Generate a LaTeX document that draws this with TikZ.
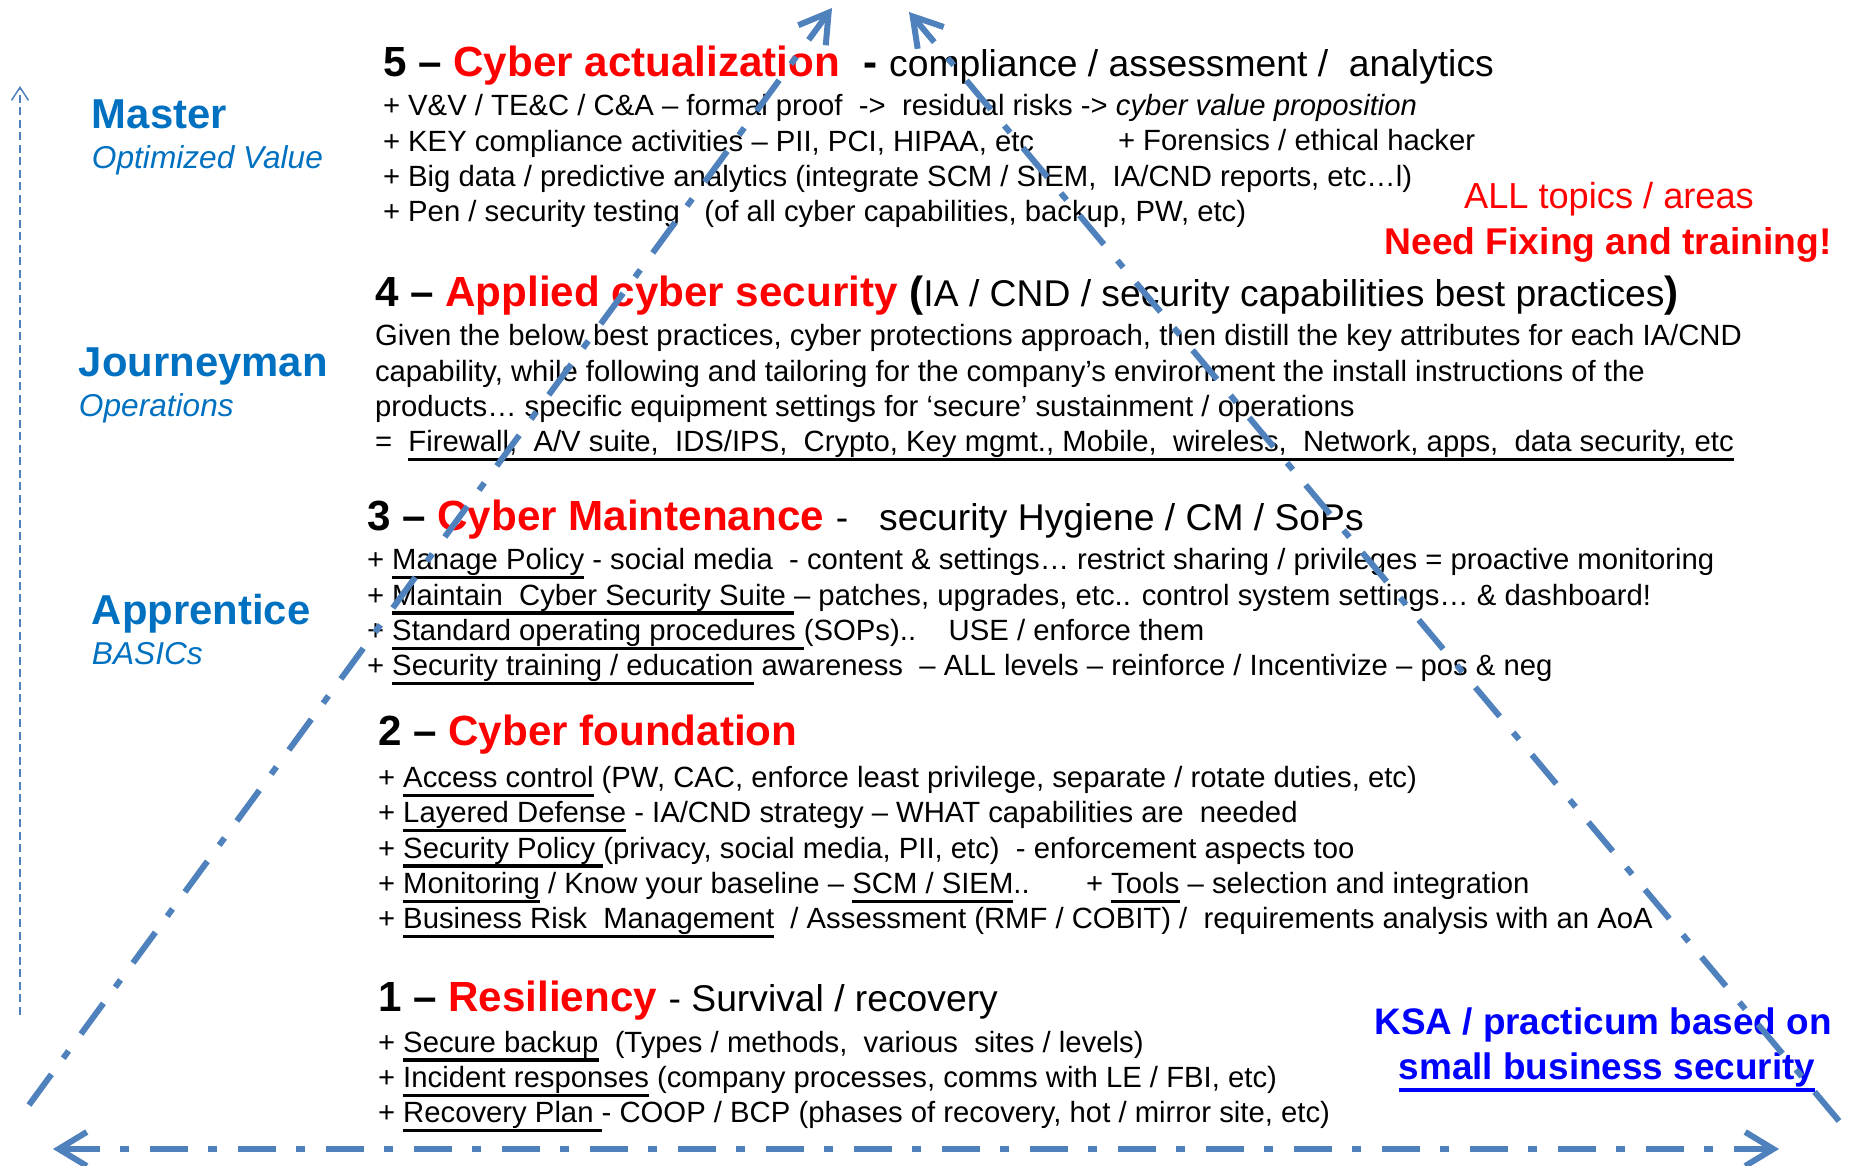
\documentclass[tikz,border=0pt]{standalone}
\usepackage{fontspec}
\setmainfont{Liberation Sans}
\usetikzlibrary{arrows.meta, positioning}
\definecolor{lvlred}{HTML}{FF0000}
\definecolor{rankblue}{HTML}{0070C0}
\definecolor{ksablue}{HTML}{0000FF}
\definecolor{triblue}{HTML}{4F81BD}
\newcommand{\undl}[1]{{\setbox0=\hbox{#1}\rlap{\vrule height -0.21em depth 0.32em width \wd0}\box0}}
\tikzset{tribarb/.tip={Straight Barb[length=2.8mm, width=3.4mm]}}

\begin{document}
\begin{tikzpicture}[x=0.1mm, y=-0.1mm,
        every node/.style={inner sep=0pt, outer sep=0pt, anchor=base west},
        head/.style={font=\fontsize{12}{14}\selectfont\bfseries},
        body/.style={align=left, font=\fontsize{8.33}{10.07}\selectfont},
        rank/.style={text=rankblue, font=\fontsize{11.9}{14}\selectfont\bfseries},
        rankdesc/.style={text=rankblue, font=\fontsize{9}{11}\selectfont\itshape},
        note/.style={anchor=base, text=lvlred},
        ksa/.style={anchor=base, text=ksablue, font=\fontsize{10.5}{13}\selectfont\bfseries},
        tri/.style={triblue, line width=0.6mm,
                    dash pattern=on 3.8mm off 2mm on 0.9mm off 2.1mm},
        axis/.style={triblue, line width=0.15mm, dash pattern=on 0.8mm off 0.45mm,
                     -{Straight Barb[length=1.3mm, width=1.7mm]}}
    ]
    \useasboundingbox (0,0) rectangle (1850,1166);

    % skill ranks
    \node[rank] (master) at (92,129) {Master};
    \node[rankdesc] (optval) at ([yshift=-4mm]master.base west) {Optimized Value};
    \node[rank] (journey) at (79,377) {Journeyman};
    \node[rankdesc] (ops) at ([yshift=-4mm]journey.base west) {Operations};
    \node[rank] (appr) at (92,625) {Apprentice};
    \node[rankdesc] (basics) at ([yshift=-4mm]appr.base west) {BASICs};

    % level 5 (body nodes sit on the baseline of their last line)
    \node[head] (h5) at (383,77) {5 – \textcolor{lvlred}{Cyber actualization}\ \ - {\fontsize{10.6}{13}\selectfont\mdseries compliance / assessment /\ \ analytics}};
    \node[body] (b5) at (383,222) {+ V\&V / TE\&C / C\&A – formal proof\ \ ->\ \ residual risks -> \textit{cyber value proposition}\\
        + KEY compliance activities – PII, PCI, HIPAA, etc\\
        + Big data / predictive analytics (integrate SCM / SIEM,\ \ IA/CND reports, etc…l)\\
        + Pen / security testing\ \ \ (of all cyber capabilities, backup, PW, etc)};
    \node[body] (forens) at (1118,151) {+ Forensics / ethical hacker};

    \node[note, font=\fontsize{10.3}{12}\selectfont] (fix1) at (1609,209) {ALL topics / areas};
    \node[note, font=\fontsize{10.6}{13}\selectfont\bfseries] (fix2) at (1608,255) {Need Fixing and training!};

    % level 4
    \node[head] (h4) at (375,307) {4 – \textcolor{lvlred}{Applied cyber security} ({\fontsize{10.6}{13}\selectfont\mdseries IA / CND / security capabilities best practices})};
    \node[body] (b4) at (375,452) {Given the below best practices, cyber protections approach, then distill the key attributes for each IA/CND\\
        capability, while following and tailoring for the company’s environment the install instructions of the\\
        products… specific equipment settings for ‘secure’ sustainment / operations\\
        =\ \ \undl{Firewall,\ \ A/V suite,\ \ IDS/IPS,\ \ Crypto, Key mgmt., Mobile,\ \ wireless,\ \ Network, apps,\ \ data security, etc}};

    % level 3
    \node[head] (h3) at (367,531) {3 – \textcolor{lvlred}{Cyber Maintenance} {\fontsize{10.6}{13}\selectfont\mdseries -\ \ \ security Hygiene / CM / SoPs}};
    \node[body] (b3) at (367,676) {+ \undl{Manage Policy} - social media\ \ - content \& settings… restrict sharing / privileges = proactive monitoring\\
        + \undl{Maintain\ \ Cyber Security Suite\ }– patches, upgrades, etc.. control system settings… \& dashboard!\\
        + \undl{Standard operating procedures\ }(SOPs)..\ \ \ \ USE / enforce them\\
        + \undl{Security training / education} awareness\ \ – ALL levels – reinforce / Incentivize – pos \& neg};

    % level 2
    \node[head] (h2) at (378,746) {2 – \textcolor{lvlred}{Cyber foundation}};
    \node[body] (b2) at (378,929) {+ \undl{Access control} (PW, CAC, enforce least privilege, separate / rotate duties, etc)\\
        + \undl{Layered Defense} - IA/CND strategy – WHAT capabilities are\ \ needed\\
        + \undl{Security Policy\ }(privacy, social media, PII, etc)\ \ - enforcement aspects too\\
        + \undl{Monitoring} / Know your baseline – \undl{SCM / SIEM}..\\
        + \undl{Business Risk\ \ Management}\ \ / Assessment (RMF / COBIT) /\ \ requirements analysis with an AoA};
    \node[body] (tools) at (1086,894) {+ \undl{Tools} – selection and integration};

    % level 1
    \node[head] (h1) at (378,1012) {1 – \textcolor{lvlred}{Resiliency} {\fontsize{10.6}{13}\selectfont\mdseries - Survival / recovery}};
    \node[body] (b1) at (378,1123) {+ \undl{Secure backup}\ \ (Types / methods,\ \ various\ \ sites / levels)\\
        + \undl{Incident responses} (company processes, comms with LE / FBI, etc)\\
        + \undl{Recovery Plan\ }- COOP / BCP (phases of recovery, hot / mirror site, etc)};

    \node[ksa] (ksa1) at (1603,1035) {KSA / practicum based on};
    \node[ksa] (ksa2) at (1607,1080) {\undl{small business security}};

    % pyramid and axes
    \coordinate (lbot) at (29,1105);
    \coordinate (ltop) at (832,8);
    \coordinate (rbot) at (1839,1121);
    \coordinate (rtop) at (909,12);
    \coordinate (bleft) at (53,1149);
    \coordinate (bright) at (1779,1149);
    \coordinate (abot) at (20,1015);
    \coordinate (atop) at (20,86);

    \draw[tri, -tribarb] (lbot) -- (ltop);
    \draw[tri, -tribarb] (rbot) -- (rtop);
    \draw[tri, tribarb-tribarb] (bleft) -- (bright);
    \draw[axis] (abot) -- (atop);
\end{tikzpicture}
\end{document}
